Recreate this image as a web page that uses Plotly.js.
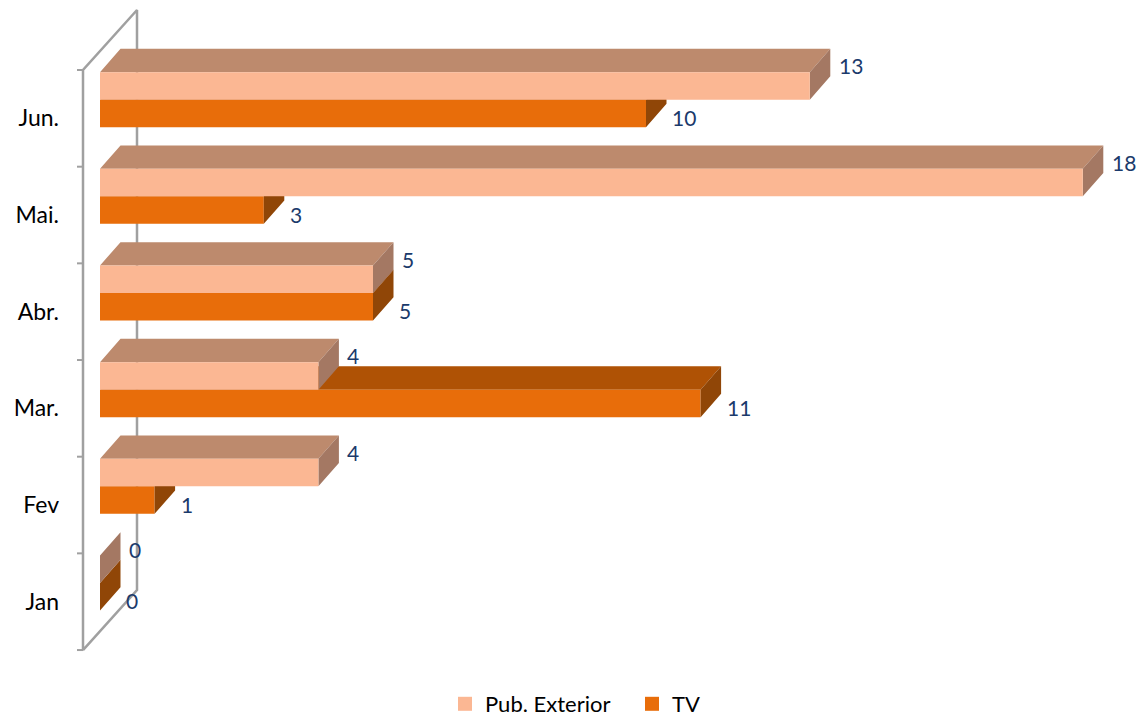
<!DOCTYPE html>
<html><head><meta charset="utf-8">
<script src="https://cdn.plot.ly/plotly-3.0.1.min.js"></script>
<style>html,body{margin:0;padding:0;background:#fff;}#chart{width:1137px;height:719px;}</style>
</head><body><div id="chart"></div>
<script>
// ---- data ----
const categories = ['Jan', 'Fev', 'Mar.', 'Abr.', 'Mai.', 'Jun.'];
const pubExterior = [0, 4, 4, 5, 18, 13];
const tv = [0, 1, 11, 5, 3, 10];
const seriesNames = ['Pub. Exterior', 'TV'];

// ---- styling / geometry ----
const W = 1137, H = 719;
const PX_X = 54.6, PX_Y = 96.67;
const X0_PX = 100, FRONT_C0_PX = 601.7;
const M = {l: 70, r: 0, t: 0, b: 59};
const xRange = [(M.l - X0_PX) / PX_X, (W - M.r - X0_PX) / PX_X];
const yRange = [(FRONT_C0_PX - (H - M.b)) / PX_Y, (FRONT_C0_PX - M.t) / PX_Y];
const barPlane = 18.7 / PX_Y, barH = 27.5 / PX_Y;
const dX = 20.5 / PX_X, dY = 23.3 / PX_Y;
const wallX = -17 / PX_X, wallDX = 54 / PX_X, wallDY = 60 / PX_Y, tickLen = 6 / PX_X;

const col = {
  pubFront: '#FBB793', pubTop: '#BD8A6D', pubSide: '#A47863',
  tvFront: '#E86D0A', tvTop: '#AF5205', tvSide: '#904607',
  wall: '#A0A0A0', label: '#1B3A6B'
};
const FONT = 'Lato, "Open Sans", sans-serif';

function polys(builder) {
  const xs = [], ys = [];
  categories.forEach((c, i) => {
    builder(i).forEach(p => { xs.push(p[0]); ys.push(p[1]); });
    xs.push(null); ys.push(null);
  });
  return {xs, ys};
}
function face(builder, color) {
  const p = polys(builder);
  return {type: 'scatter', mode: 'lines', x: p.xs, y: p.ys, fill: 'toself', fillcolor: color,
          line: {width: 0, color: color}, hoverinfo: 'skip', showlegend: false};
}
const cy = i => i + barPlane;

// wall + ticks
const n = categories.length;
const wallTrace = {type: 'scatter', mode: 'lines',
  x: [wallX, wallX, wallX + wallDX, wallX + wallDX, wallX],
  y: [-0.5, n - 0.5, n - 0.5 + wallDY, -0.5 + wallDY, -0.5],
  line: {color: col.wall, width: 2.5}, hoverinfo: 'skip', showlegend: false};
const tx = [], ty = [];
for (let k = 0; k <= n; k++) { tx.push(wallX - tickLen, wallX, null); ty.push(k - 0.5, k - 0.5, null); }
const tickTrace = {type: 'scatter', mode: 'lines', x: tx, y: ty,
  line: {color: col.wall, width: 2}, hoverinfo: 'skip', showlegend: false};

const traces = [
  wallTrace, tickTrace,
  // TV
  face(i => { const v = tv[i], y = cy(i); return [[0, y], [v, y], [v + dX, y + dY], [dX, y + dY]]; }, col.tvTop),
  face(i => { const v = tv[i], y = cy(i); return [[0, y - barH], [v, y - barH], [v, y], [0, y]]; }, col.tvFront),
  face(i => { const v = tv[i], y = cy(i); return [[v, y - barH], [v + dX, y - barH + dY], [v + dX, y + dY], [v, y]]; }, col.tvSide),
  // Pub. Exterior
  face(i => { const v = pubExterior[i], y = cy(i) + barH; return [[0, y], [v, y], [v + dX, y + dY], [dX, y + dY]]; }, col.pubTop),
  face(i => { const v = pubExterior[i], y = cy(i); return [[v, y], [v + dX, y + dY], [v + dX, y + barH + dY], [v, y + barH]]; }, col.pubSide),
  face(i => { const v = pubExterior[i], y = cy(i); return [[0, y], [v, y], [v, y + barH], [0, y + barH]]; }, col.pubFront),
  // legend entries
  {type: 'scatter', mode: 'markers', x: [null], y: [null], name: seriesNames[0],
   marker: {symbol: 'square', size: 14, color: col.pubFront}, hoverinfo: 'skip'},
  {type: 'scatter', mode: 'markers', x: [null], y: [null], name: seriesNames[1],
   marker: {symbol: 'square', size: 14, color: col.tvFront}, hoverinfo: 'skip'}
];

const annotations = [];
categories.forEach((c, i) => {
  annotations.push({x: pubExterior[i], y: cy(i) + barH / 2, xref: 'x', yref: 'y', text: String(pubExterior[i]),
    showarrow: false, xanchor: 'left', yanchor: 'middle', xshift: 27, yshift: 20,
    font: {family: FONT, size: 21, color: col.label}});
  annotations.push({x: tv[i], y: cy(i) - barH / 2, xref: 'x', yref: 'y', text: String(tv[i]),
    showarrow: false, xanchor: 'left', yanchor: 'middle', xshift: 24, yshift: -4,
    font: {family: FONT, size: 21, color: col.label}});
});

const layout = {
  width: W, height: H,
  margin: {l: M.l, r: M.r, t: M.t, b: M.b, autoexpand: false},
  paper_bgcolor: '#fff', plot_bgcolor: 'rgba(0,0,0,0)',
  font: {family: FONT, color: '#000'},
  xaxis: {range: xRange, visible: false, fixedrange: true},
  yaxis: {range: yRange, tickmode: 'array', tickvals: categories.map((c, i) => i), ticktext: categories,
          ticks: '', showgrid: false, zeroline: false, showline: false, fixedrange: true,
          ticklabelstandoff: 10, tickfont: {family: FONT, size: 23, color: '#000'}},
  showlegend: true,
  legend: {orientation: 'h', x: (445 - M.l) / (W - M.l - M.r), xanchor: 'left',
           y: ((H - M.b) - 704) / (H - M.t - M.b), yanchor: 'middle', entrywidth: 142,
           font: {family: FONT, size: 22, color: '#000'}, bgcolor: 'rgba(0,0,0,0)', traceorder: 'normal'},
  annotations: annotations
};
Plotly.newPlot('chart', traces, layout, {displayModeBar: false, staticPlot: true});
</script></body></html>
